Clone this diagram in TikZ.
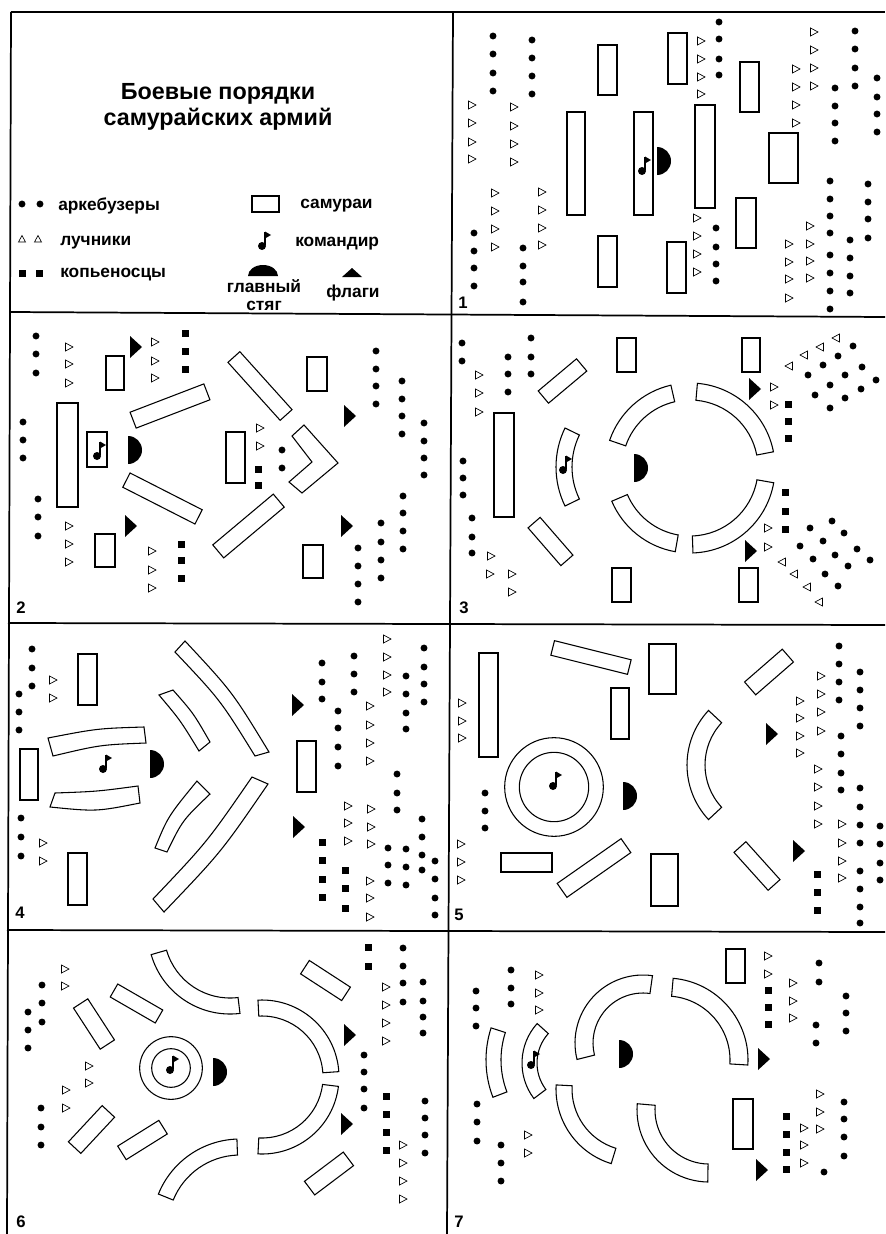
\documentclass[tikz,border=0pt]{standalone}
\usepackage{fontspec}
\setmainfont{Liberation Sans}
\usetikzlibrary{calc}
\tikzset{
  shp/.style={draw,line width=0.8pt,line join=miter},
  tri/.style={draw,line width=0.5pt,line join=miter},
  gridln/.style={draw,line width=1.3pt},
  lbl/.style={font=\fontsize{13}{15}\selectfont\bfseries,inner sep=0pt,anchor=base west},
  lblc/.style={font=\fontsize{13}{15}\selectfont\bfseries,inner sep=0pt,anchor=base},
  ttl/.style={font=\fontsize{17.5}{19}\selectfont\bfseries,inner sep=0pt,anchor=base},
  pnum/.style={font=\fontsize{12.5}{14}\selectfont\bfseries,inner sep=0pt,anchor=base west},
}
\newcommand\sDot[2]{\fill (#1,#2) circle[radius=2.6pt];}
\newcommand\sSq[2]{\fill (#1-3.5,#2-3.5) rectangle (#1+3.5,#2+3.5);}
\newcommand\sTriR[2]{\draw[tri] (#1-3.5,#2-4) -- (#1+4,#2) -- (#1-3.5,#2+4) -- cycle;}
\newcommand\sTriL[2]{\draw[tri] (#1+3.5,#2-4) -- (#1-4,#2) -- (#1+3.5,#2+4) -- cycle;}
\newcommand\sTriU[2]{\draw[tri] (#1-3.5,#2+3) -- (#1,#2-3.5) -- (#1+3.5,#2+3) -- cycle;}
\newcommand\sFlag[2]{\fill (#1-6,#2-11) -- (#1+6,#2) -- (#1-6,#2+11) -- cycle;}
\newcommand\sBan[2]{\fill (#1,#2-14) arc[start angle=-90,end angle=90,radius=14] -- cycle;}
\newcommand\sCmd[2]{\fill (#1,#2) circle[radius=3pt]; \draw[line width=0.8pt] (#1+3,#2-1) -- (#1+3,#2-14); \fill (#1+3,#2-14.5) -- (#1+9,#2-11) -- (#1+3,#2-7.5) -- cycle;}
\newcommand\sRect[4]{\draw[shp] (#1,#2) rectangle (#3,#4);}
\newcommand\sRot[5]{\draw[shp,shift={(#1,#2)},rotate=#5] (-#3/2,-#4/2) rectangle (#3/2,#4/2);}
\newcommand\sArc[6]{\draw[shp] ([shift={(#5:#4)}]#1,#2) arc[start angle=#5,end angle=#6,radius=#4] -- ([shift={(#6:#3)}]#1,#2) arc[start angle=#6,end angle=#5,radius=#3] -- cycle;}
\newcommand\sBand[6]{\draw[shp] (#1) .. controls ($1.3333*(#2)-0.16667*(#1)-0.16667*(#3)$) .. (#3) -- (#4) .. controls ($1.3333*(#5)-0.16667*(#4)-0.16667*(#6)$) .. (#6) -- cycle;}
\newcommand\sDots[2]{\foreach \yy in {#2} {\sDot{#1}{\yy}}}
\newcommand\sTrisR[2]{\foreach \yy in {#2} {\sTriR{#1}{\yy}}}
\newcommand\sSqs[2]{\foreach \yy in {#2} {\sSq{#1}{\yy}}}
\begin{document}
\begin{tikzpicture}[x=0.75pt,y=-0.75pt]
\useasboundingbox (0,0) rectangle (885,1234);
\fill[white] (0,0) rectangle (885,1234);
% grid
\draw[gridln] (11,12) -- (885,12);
\draw[gridln] (11,12) -- (7,1234);
\draw[gridln] (453,12) -- (447,1234);
\draw[gridln] (10,312) -- (885,317);
\draw[gridln] (8,623) -- (885,625);
\draw[gridln] (7,930) -- (885,932);
% ---------------- legend
\node[ttl] (title1) at (218,100) {Боевые порядки};
\node[ttl] (title2) at (218,126) {самурайских армий};
\sDot{22}{204}\sDot{40}{204}
\sTriU{22}{239}\sTriU{38}{239}
\sSq{22}{273}\sSq{39}{273}
\node[lbl] (tArk) at (58,210) {аркебузеры};
\node[lbl] (tLuch) at (60,245) {лучники};
\node[lbl] (tKop) at (60,277) {копьеносцы};
\sRect{252}{196}{279}{212}
\node[lbl] (tSam) at (300,208) {самураи};
\sCmd{262}{246}
\node[lbl] (tKom) at (295,246) {командир};
\fill (248,276) arc[start angle=180,end angle=360,x radius=15,y radius=11] -- cycle;
\node[lblc] (tGl) at (264,292) {главный};
\node[lblc] (tSt) at (264,310) {стяг};
\fill (342,277) -- (352,268) -- (362,277) -- cycle;
\node[lblc] (tFl) at (353,297) {флаги};
% ---------------- panel 1
\sDots{493}{36,54,73,91}
\sDots{532}{40,58,76,94}
\sDots{474}{233,251,268,286}
\sDots{523}{248,266,282,302}
\sDots{719}{22,39,59,75}
\sDots{716}{228,247,264,281}
\sDots{855}{31,49,68,86}
\sDots{835}{88,106,123,141}
\sDots{877}{78,97,114,132}
\sDots{830}{181,199,216,233,255,273,291,309}
\sDots{868}{184,202,219,238}
\sDots{850}{240,258,276,293}
\sTrisR{472}{105,123,142,159}
\sTrisR{514}{107,126,144,162}
\sTrisR{495}{193,211,229,247}
\sTrisR{542}{192,210,228,245}
\sTrisR{701}{41,59,77,94}
\sTrisR{697}{218,236,254,272}
\sTrisR{814}{32,50,68,86}
\sTrisR{796}{69,87,105,123}
\sTrisR{810}{226,244,261,278}
\sTrisR{789}{244,262,279,298}
\sRect{598}{45}{617}{95}
\sRect{567}{112}{585}{215}
\sRect{634}{112}{653}{215}
\sRect{668}{33}{687}{84}
\sRect{695}{105}{715}{208}
\sRect{740}{62}{759}{112}
\sRect{769}{133}{798}{183}
\sRect{736}{198}{756}{248}
\sRect{598}{236}{617}{287}
\sRect{667}{242}{686}{293}
\sCmd{642}{171}
\sBan{657}{161}
\node[pnum] (n1) at (458,308) {1};
% ---------------- panel 2
\sDots{36}{336,354,373}
\sDots{23}{422,440,458}
\sDots{38}{499,517,536}
\sDots{282}{450,468}
\sDots{376}{351,369,386,404}
\sDots{402}{381,399,416,434}
\sDots{424}{423,441,458,475}
\sDots{403}{496,513,531,549}
\sDots{381}{523,542,560,578}
\sDots{358}{548,566,584,602}
\sTrisR{69}{347,364,383}
\sTrisR{155}{342,361,378}
\sTrisR{69}{526,544,562}
\sTrisR{152}{551,570,588}
\sTrisR{260}{428,446}
\sSqs{185}{333,351,369}
\sSqs{181}{544,560,578}
\sSqs{258}{469,485}
\sFlag{136}{347}\sFlag{131}{526}\sFlag{350}{416}\sFlag{347}{526}
\sRect{106}{356}{124}{390}
\sRect{57}{403}{78}{507}
\sRect{95}{534}{115}{567}
\sRect{307}{357}{327}{391}
\sRect{226}{432}{245}{483}
\sRect{303}{545}{323}{578}
\sRect{87}{432}{107}{467}
\sCmd{97}{456}
\sBan{128}{450}
\sRot{170}{406}{79}{17}{21}
\sRot{162.5}{498.5}{81}{16}{-27}
\sRot{260}{386}{78}{16}{-48}
\sRot{248.5}{526}{79}{17}{40}
\draw[shp] (292,436) -- (304,425) -- (338,463) -- (302,493) -- (289,482) -- (312,462) -- cycle;
\node[pnum] (n2) at (16,613) {2};
% ---------------- panel 3
\sDots{462}{343,361}
\sDots{508}{357,374,392}
\sDots{531}{338,357,374}
\sDots{463}{461,478,495}
\sDots{472}{518,537,553}
\foreach \p/\q in {853/346,838/356,823/365,808/375,862/367,845/375,830/385,815/395,876/380,861/389,845/398,830/408,832/521,810/528,844/533,823/541,800/546,857/549,835/555,813/559,870/560,848/566,825/574,838/586} {\sDot{\p}{\q}}
\sTrisR{479}{375,393,412}
\foreach \p/\q in {491/556,490/574,512/574,512/592,774/387,774/405,768/528,768/547} {\sTriR{\p}{\q}}
\foreach \p/\q in {789/366,804/355,820/347,836/338,782/562,794/574,807/587,819/602} {\sTriL{\p}{\q}}
\sSqs{788}{404,421,438}
\sSqs{785}{492,511,529}
\sFlag{755}{389}\sFlag{751}{551}
\sRect{617}{338}{636}{372}
\sRect{742}{338}{760}{372}
\sRect{494}{413}{514}{517}
\sRect{612}{568}{631}{602}
\sRect{739}{568}{758}{602}
\sRot{562.5}{381}{50}{16}{40}
\sRot{550.5}{541.5}{50}{16}{-49}
\sArc{645}{467}{73}{89}{154}{206}
\sCmd{563}{470}
\sBan{634}{468}
\sArc{690}{468}{68}{85}{199}{257}
\sArc{690}{468}{68}{85}{275}{349}
\sArc{690}{468}{68}{85}{10}{88}
\sArc{690}{468}{68}{85}{100}{157}
\node[pnum] (n3) at (459,613) {3};
% ---------------- panel 4
\sDots{32}{649,668,686}
\sDots{19}{694,712,730}
\sDots{21}{818,837,856}
\sDots{322}{663,682,699}
\sDots{354}{656,674,692}
\sDots{424}{648,667,684,702}
\sDots{406}{676,694,713,729}
\sDots{338}{711,728,747,766}
\sDots{397}{774,793,810}
\sDots{422}{819,837,855,870}
\sDots{388}{848,865,883}
\sDots{406}{849,867,885}
\sDots{435}{861,879,898,915}
\sTrisR{53}{680,698}
\sTrisR{43}{843,861}
\sTrisR{387}{639,657,675,692}
\sTrisR{370}{706,725,743,761}
\sTrisR{348}{806,823,841}
\sTrisR{371}{809,827,844}
\sTrisR{370}{881,898,917}
\sSqs{322}{842,860,879,897}
\sSqs{345}{870,888,908}
\sFlag{298}{705}\sFlag{299}{827}
\sRect{78}{654}{97}{705}
\sRect{20}{749}{38}{800}
\sRect{68}{853}{87}{905}
\sRect{297}{741}{316}{792}
\sCmd{103}{769}
\sBan{150}{764}
\sBand{48,738}{97,729.5}{144,727}{146,743}{100,746}{53,756}
\sBand{50,807}{96,810}{140,803}{138,786}{97,791}{55,793}
\sBand{173,690}{193,714}{210,742}{199,751}{180,721}{159,695}
\sBand{185,641}{231,693}{269,752}{255,756}{219,701}{175,652}
\sBand{197,781}{170,816}{155,848}{167,852}{184,821}{210,794}
\sBand{268,784}{220,851}{164,912}{153,899}{206,841}{252,777}
\node[pnum] (n4) at (15,918) {4};
% ---------------- panel 5
\sDots{485}{793,811,828}
\sDots{839}{646,664,682,700}
\sDots{860}{672,690,708,726}
\sDots{841}{736,754,773,790}
\sDots{860}{788,807,825,843,871,889,907,923}
\sDots{880}{826,844,863,880}
\sTrisR{462}{703,721,738}
\sTrisR{461}{844,862,880}
\sTrisR{821}{676,694,712,731}
\sTrisR{800}{701,718,736,753}
\sTrisR{818}{769,787,806,824}
\sTrisR{842}{824,843,861,878}
\sSqs{817}{874,892,910}
\sFlag{772}{734}\sFlag{799}{851}
\sRect{479}{653}{498}{757}
\sRect{649}{644}{676}{694}
\sRect{611}{688}{629}{739}
\sRect{501}{853}{552}{872}
\sRect{651}{854}{678}{906}
\sRot{591}{657.5}{79}{15}{-14}
\sRot{594}{868}{78}{17}{35}
\sRot{769}{672}{50}{17}{41}
\sRot{757}{866}{51}{16}{-48}
\draw[shp] (554,787) circle[radius=37pt];
\draw[shp] (554,787) circle[radius=26pt];
\sCmd{553}{786}
\sBan{623}{796}
\sArc{767}{765}{62}{80}{137}{223}
\node[pnum] (n5) at (454,920) {5};
% ---------------- panel 6
\sDots{42}{985,1003,1022}
\sDots{28}{1012,1030,1048}
\sDots{41}{1108,1127,1145}
\sDots{403}{948,966,983,1002}
\sDots{423}{982,1001,1017,1033}
\sDots{364}{1055,1072,1089,1108}
\sDots{425}{1101,1118,1135,1153}
\sTrisR{65}{969,986}
\sTrisR{89}{1066,1083}
\sTrisR{66}{1090,1108}
\sTrisR{386}{987,1005,1023,1041}
\sTrisR{403}{1145,1163,1181,1199}
\sSqs{368}{947,966}
\sSqs{386}{1096,1114,1132,1150}
\sFlag{350}{1035}\sFlag{347}{1124}
\sRot{94}{1024}{49}{17}{-57}
\sRot{136.5}{1003.5}{52}{15}{-30}
\sRot{91.5}{1129.5}{49.5}{17}{47}
\sRot{142.5}{1140}{48.5}{16}{32}
\sRot{325.5}{980.5}{49}{16}{-33}
\sRot{329}{1173.5}{48.6}{17}{37}
\draw[shp] (171,1068) circle[radius=23.5pt];
\draw[shp] (171,1068) circle[radius=14.5pt];
\sCmd{170}{1070}
\sBan{213}{1072}
\sArc{230}{932}{66}{82}{83}{164}
\sArc{262}{1077}{61}{77}{267}{356}
\sArc{262}{1077}{61}{77}{7}{93}
\sArc{240}{1227}{72}{88}{202}{268}
\node[pnum] (n6) at (16,1227) {6};
% ---------------- panel 7
\sDots{511}{970,988,1004}
\sDots{476}{991,1008,1026}
\sDots{477}{1104,1122,1141}
\sDots{501}{1145,1163,1181}
\sDots{819}{963,982}
\sDots{846}{996,1013,1031}
\sDots{816}{1025,1043}
\sDots{844}{1102,1119,1137,1156}
\sDot{824}{1172}
\sTrisR{539}{975,993,1010}
\sTrisR{528}{1135,1153}
\sTrisR{768}{956,974}
\sTrisR{793}{983,1001,1018}
\sTrisR{820}{1094,1112,1129}
\sTrisR{804}{1128,1145,1163}
\sSqs{768}{990,1007,1024}
\sSqs{786}{1116,1134,1152,1169}
\sFlag{764}{1059}\sFlag{762}{1170}
\sRect{726}{949}{745}{983}
\sRect{733}{1099}{753}{1149}
\sArc{590}{1060}{89}{104}{159}{198}
\sArc{581}{1063}{44}{59}{143}{222}
\sCmd{531}{1065}
\sArc{643}{1043}{50}{68}{166}{278}
\sArc{666}{1060}{64}{82}{275}{363.5}
\sArc{634}{1089}{62}{78}{107}{183}
\sArc{709}{1110}{54}{72}{91}{185}
\sBan{619}{1054}
\node[pnum] (n7) at (454,1227) {7};
\end{tikzpicture}
\end{document}
